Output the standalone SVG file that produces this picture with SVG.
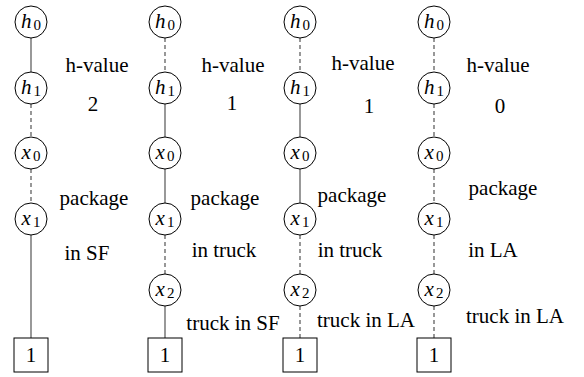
<svg xmlns="http://www.w3.org/2000/svg" width="584" height="377" viewBox="0 0 584 377" font-family="Liberation Serif, Times New Roman, Times, DejaVu Serif, serif">
<style>
.n{fill:#fff;stroke:#000;stroke-width:1}
.b{fill:#fff;stroke:#000;stroke-width:1}
text{font-family:'Liberation Serif','Times New Roman',Times,'DejaVu Serif',serif}
.v{font-size:21px;fill:#000;text-anchor:middle}
.v .i{font-style:italic}
.v .s{font-size:15px}
.t{font-size:21px;fill:#000;text-anchor:middle}
.s1{stroke:#444;stroke-width:1.1;fill:none}
.d1{stroke:#444;stroke-width:1.1;fill:none;stroke-dasharray:4 3}
</style>
<rect width="584" height="377" fill="#fff"/>
<g id="connectors">
<line class="s1" x1="31" y1="38" x2="31" y2="72"/>
<line class="d1" x1="31" y1="104" x2="31" y2="137"/>
<line class="d1" x1="31" y1="169" x2="31" y2="203"/>
<line class="s1" x1="31" y1="235" x2="31" y2="338"/>
<line class="d1" x1="165" y1="38" x2="165" y2="72"/>
<line class="s1" x1="165" y1="104" x2="165" y2="137"/>
<line class="s1" x1="165" y1="169" x2="165" y2="203"/>
<line class="d1" x1="165" y1="235" x2="165" y2="274"/>
<line class="s1" x1="165" y1="306" x2="165" y2="338"/>
<line class="d1" x1="300" y1="38" x2="300" y2="72"/>
<line class="s1" x1="300" y1="104" x2="300" y2="137"/>
<line class="s1" x1="300" y1="169" x2="300" y2="203"/>
<line class="d1" x1="300" y1="235" x2="300" y2="274"/>
<line class="d1" x1="300" y1="306" x2="300" y2="338"/>
<line class="d1" x1="434" y1="38" x2="434" y2="72"/>
<line class="d1" x1="434" y1="104" x2="434" y2="137"/>
<line class="d1" x1="434" y1="169" x2="434" y2="203"/>
<line class="d1" x1="434" y1="235" x2="434" y2="274"/>
<line class="d1" x1="434" y1="306" x2="434" y2="338"/>
</g>
<g id="c1h0"><circle class="n" cx="31" cy="22" r="16"/><text class="v" x="31" y="28"><tspan class="i">h</tspan><tspan class="s" dx="2" dy="2">0</tspan></text></g>
<g id="c1h1"><circle class="n" cx="31" cy="88" r="16"/><text class="v" x="31" y="94"><tspan class="i">h</tspan><tspan class="s" dx="2" dy="2">1</tspan></text></g>
<g id="c1x0"><circle class="n" cx="31" cy="153" r="16"/><text class="v" x="31" y="159"><tspan class="i">x</tspan><tspan class="s" dx="2" dy="2">0</tspan></text></g>
<g id="c1x1"><circle class="n" cx="31" cy="219" r="16"/><text class="v" x="31" y="225"><tspan class="i">x</tspan><tspan class="s" dx="2" dy="2">1</tspan></text></g>
<g id="c1box"><rect class="b" x="14" y="338" width="34" height="34"/><text class="t" x="31" y="362">1</text></g>
<g id="c2h0"><circle class="n" cx="165" cy="22" r="16"/><text class="v" x="165" y="28"><tspan class="i">h</tspan><tspan class="s" dx="2" dy="2">0</tspan></text></g>
<g id="c2h1"><circle class="n" cx="165" cy="88" r="16"/><text class="v" x="165" y="94"><tspan class="i">h</tspan><tspan class="s" dx="2" dy="2">1</tspan></text></g>
<g id="c2x0"><circle class="n" cx="165" cy="153" r="16"/><text class="v" x="165" y="159"><tspan class="i">x</tspan><tspan class="s" dx="2" dy="2">0</tspan></text></g>
<g id="c2x1"><circle class="n" cx="165" cy="219" r="16"/><text class="v" x="165" y="225"><tspan class="i">x</tspan><tspan class="s" dx="2" dy="2">1</tspan></text></g>
<g id="c2x2"><circle class="n" cx="165" cy="290" r="16"/><text class="v" x="165" y="296"><tspan class="i">x</tspan><tspan class="s" dx="2" dy="2">2</tspan></text></g>
<g id="c2box"><rect class="b" x="148" y="338" width="34" height="34"/><text class="t" x="165" y="362">1</text></g>
<g id="c3h0"><circle class="n" cx="300" cy="22" r="16"/><text class="v" x="300" y="28"><tspan class="i">h</tspan><tspan class="s" dx="2" dy="2">0</tspan></text></g>
<g id="c3h1"><circle class="n" cx="300" cy="88" r="16"/><text class="v" x="300" y="94"><tspan class="i">h</tspan><tspan class="s" dx="2" dy="2">1</tspan></text></g>
<g id="c3x0"><circle class="n" cx="300" cy="153" r="16"/><text class="v" x="300" y="159"><tspan class="i">x</tspan><tspan class="s" dx="2" dy="2">0</tspan></text></g>
<g id="c3x1"><circle class="n" cx="300" cy="219" r="16"/><text class="v" x="300" y="225"><tspan class="i">x</tspan><tspan class="s" dx="2" dy="2">1</tspan></text></g>
<g id="c3x2"><circle class="n" cx="300" cy="290" r="16"/><text class="v" x="300" y="296"><tspan class="i">x</tspan><tspan class="s" dx="2" dy="2">2</tspan></text></g>
<g id="c3box"><rect class="b" x="283" y="338" width="34" height="34"/><text class="t" x="300" y="362">1</text></g>
<g id="c4h0"><circle class="n" cx="434" cy="22" r="16"/><text class="v" x="434" y="28"><tspan class="i">h</tspan><tspan class="s" dx="2" dy="2">0</tspan></text></g>
<g id="c4h1"><circle class="n" cx="434" cy="88" r="16"/><text class="v" x="434" y="94"><tspan class="i">h</tspan><tspan class="s" dx="2" dy="2">1</tspan></text></g>
<g id="c4x0"><circle class="n" cx="434" cy="153" r="16"/><text class="v" x="434" y="159"><tspan class="i">x</tspan><tspan class="s" dx="2" dy="2">0</tspan></text></g>
<g id="c4x1"><circle class="n" cx="434" cy="219" r="16"/><text class="v" x="434" y="225"><tspan class="i">x</tspan><tspan class="s" dx="2" dy="2">1</tspan></text></g>
<g id="c4x2"><circle class="n" cx="434" cy="290" r="16"/><text class="v" x="434" y="296"><tspan class="i">x</tspan><tspan class="s" dx="2" dy="2">2</tspan></text></g>
<g id="c4box"><rect class="b" x="417" y="338" width="34" height="34"/><text class="t" x="434" y="362">1</text></g>
<g id="labels">
<text class="t" x="97" y="72">h-value</text>
<text class="t" x="93" y="111">2</text>
<text class="t" x="94" y="205">package</text>
<text class="t" x="87" y="260">in SF</text>
<text class="t" x="233" y="72">h-value</text>
<text class="t" x="232" y="110">1</text>
<text class="t" x="225" y="205">package</text>
<text class="t" x="224" y="257">in truck</text>
<text class="t" x="233" y="330">truck in SF</text>
<text class="t" x="363" y="70">h-value</text>
<text class="t" x="369" y="113">1</text>
<text class="t" x="352" y="202">package</text>
<text class="t" x="350" y="257">in truck</text>
<text class="t" x="366" y="327">truck in LA</text>
<text class="t" x="498" y="72">h-value</text>
<text class="t" x="500" y="113">0</text>
<text class="t" x="503" y="195">package</text>
<text class="t" x="493" y="257">in LA</text>
<text class="t" x="515" y="323">truck in LA</text>
</g>
</svg>
